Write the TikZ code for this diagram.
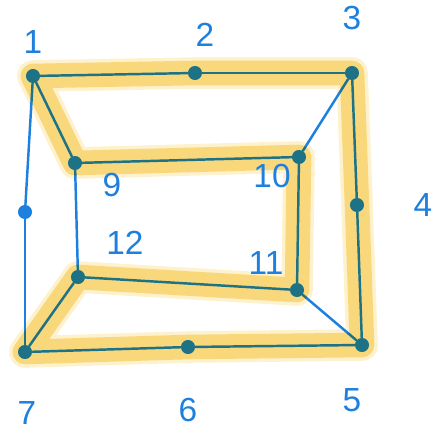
\documentclass[tikz,border=0pt]{standalone}
\usepackage{fontspec}
\setmainfont{Liberation Sans}
\usepackage{xcolor}
\definecolor{penblue}{RGB}{30,128,222}
\definecolor{hilite}{RGB}{251,228,155}
\definecolor{hilitesoft}{RGB}{253,242,205}
\usetikzlibrary{positioning,backgrounds}

\begin{document}
\begin{tikzpicture}[
  x=0.02cm, y=-0.02cm,
  font=\fontsize{19}{19}\selectfont,
  vert/.style={
    circle, inner sep=0pt, minimum size=8pt,
    fill=penblue, draw=none
  },
  tag/.style={text=penblue, inner sep=1pt},
  edge/.style={line width=1.4pt, color=penblue, line cap=round},
  band/.style={line width=#1, line cap=round, line join=round}
]
\useasboundingbox (0,0) rectangle (442,435);

% vertices
\node[vert] (v1) at (33,76) {};
\node[vert] (v2) at (195,73) {};
\node[vert] (v3) at (352,73) {};
\node[vert] (v4) at (357,205) {};
\node[vert] (v5) at (362,345) {};
\node[vert] (v6) at (188,347) {};
\node[vert] (v7) at (25,352) {};
\node[vert] (v8) at (25,212) {};
\node[vert] (v9) at (75,163) {};
\node[vert] (v10) at (299,157) {};
\node[vert] (v11) at (297,290) {};
\node[vert] (v12) at (78,277) {};

% edges
\foreach \a/\b in {v1/v2,v2/v3,v3/v4,v4/v5,v5/v6,v6/v7,v7/v8,v8/v1,
                   v9/v10,v10/v11,v11/v12,v12/v9,
                   v1/v9,v3/v10,v5/v11,v7/v12} {
  \draw[edge] (\a) -- (\b);
}

% highlighted cycle
\begin{scope}[on background layer]
\draw[band=18pt, color=hilitesoft]
  (v1.center) -- (v2.center) -- (v3.center) -- (v4.center) -- (v5.center)
  -- (v6.center) -- (v7.center) -- (v12.center) -- (v11.center)
  -- (v10.center) -- (v9.center) -- cycle;
\end{scope}
\begin{scope}[blend mode=multiply]
\draw[band=14pt, color=hilite]
  (v1.center) -- (v2.center) -- (v3.center) -- (v4.center) -- (v5.center)
  -- (v6.center) -- (v7.center) -- (v12.center) -- (v11.center)
  -- (v10.center) -- (v9.center) -- cycle;
\end{scope}

% labels
\node[tag] (l1) at (33,42) {1};
\node[tag] (l2) at (205,35) {2};
\node[tag] (l3) at (352,18) {3};
\node[tag] (l4) at (423,205) {4};
\node[tag] (l5) at (352,400) {5};
\node[tag] (l6) at (188,410) {6};
\node[tag] (l7) at (27,413) {7};
\node[tag] (l9) at (112,185) {9};
\node[tag] (l10) at (272,176) {10};
\node[tag] (l11) at (266,263) {11};
\node[tag] (l12) at (125,243) {12};
\end{tikzpicture}
\end{document}
